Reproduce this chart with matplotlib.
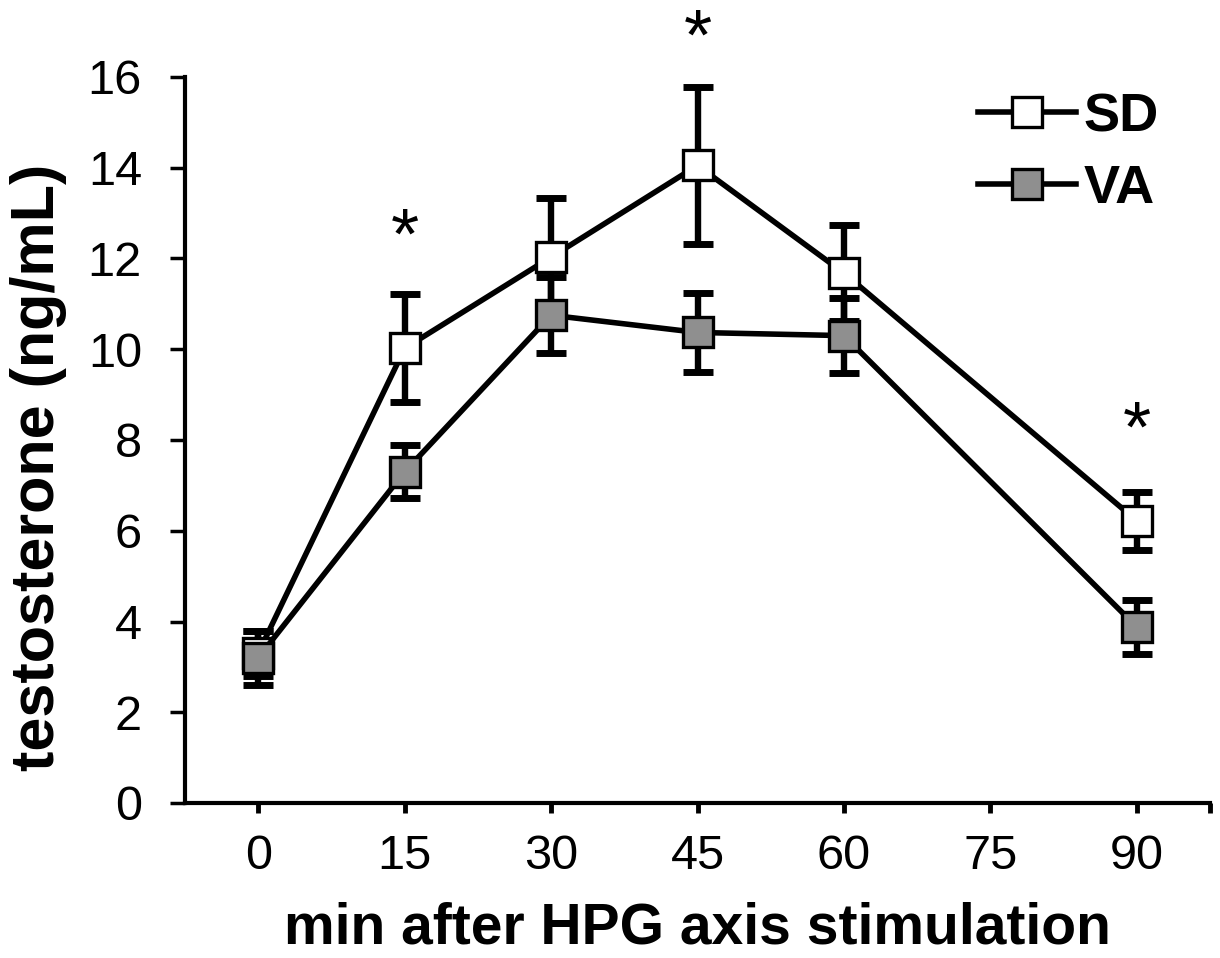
import matplotlib
matplotlib.use('Agg')
import matplotlib.pyplot as plt
from matplotlib.lines import Line2D

plt.rcParams['font.family'] = ['Liberation Sans', 'DejaVu Sans']

# minutes after stimulation (75 has no measurement)
minutes = [0, 15, 30, 45, 60, 75, 90]
tick_labels = ['0', '15', '30', '45', '60', '75', '90']
x_meas = [0, 15, 30, 45, 60, 90]

sd_mean = [3.3, 10.02, 12.03, 14.05, 11.68, 6.22]
sd_err = [0.5, 1.19, 1.3, 1.74, 1.06, 0.64]
va_mean = [3.2, 7.3, 10.75, 10.37, 10.3, 3.88]
va_err = [0.6, 0.58, 0.84, 0.87, 0.83, 0.6]

# significance stars (x, y of glyph centre)
star_x = [15, 45, 90]
star_y = [12.4, 16.8, 8.15]

GRAY = '#8f8f8f'
LW = 4.0
MS = 22

fig = plt.figure(figsize=(12.2, 9.58), dpi=100)
ax = fig.add_axes([185 / 1220, 1 - 803 / 958, 1025 / 1220, 726 / 958])

for m, e in ((sd_mean, sd_err), (va_mean, va_err)):
    ax.errorbar(x_meas, m, yerr=e, fmt='none', ecolor='black', elinewidth=4.6,
                capsize=11, capthick=5, zorder=2, clip_on=False)

ax.plot(x_meas, sd_mean, color='black', lw=LW, marker='s', ms=MS, mfc='white',
        mec='black', mew=2.4, zorder=3, clip_on=False, label='SD')
ax.plot(x_meas, va_mean, color='black', lw=LW, marker='s', ms=MS, mfc=GRAY,
        mec='black', mew=2.4, zorder=4, clip_on=False, label='VA')

for sx, sy in zip(star_x, star_y):
    ax.text(sx, sy, '*', fontsize=52, ha='center', va='center', clip_on=False)

ax.set_xlim(-7.5, 97.5)
ax.set_ylim(0, 16)
ax.set_xticks(minutes + [97.5])
ax.set_xticklabels(tick_labels + [''])
ax.set_yticks(range(0, 17, 2))

for s in ('top', 'right'):
    ax.spines[s].set_visible(False)
for s in ('left', 'bottom'):
    ax.spines[s].set_linewidth(3)

ax.tick_params(axis='y', direction='out', length=11, width=2.5, labelsize=35, pad=20)
ax.tick_params(axis='x', direction='out', length=7, width=3.5, labelsize=35, pad=15)

ax.set_xlabel('min after HPG axis stimulation', fontsize=41, fontweight='bold')
ax.xaxis.set_label_coords(0.5, -0.135)
ax.set_ylabel('testosterone (ng/mL)', fontsize=44, fontweight='bold', va='center')
ax.yaxis.set_label_coords(-0.143, 0.462)

handles = [
    Line2D([], [], color='black', lw=LW, marker='s', ms=MS, mfc='white', mec='black', mew=2.4),
    Line2D([], [], color='black', lw=LW, marker='s', ms=MS, mfc=GRAY, mec='black', mew=2.4),
]
leg = fig.legend(handles, ['SD', 'VA'], loc='upper left',
                 bbox_to_anchor=(978 / 1220, 1 - 92 / 958),
                 frameon=False, prop={'size': 39, 'weight': 'bold'},
                 handlelength=1.8, handletextpad=0.15, labelspacing=0.4,
                 borderpad=0, borderaxespad=0)

fig.savefig('out.png', dpi=100)
